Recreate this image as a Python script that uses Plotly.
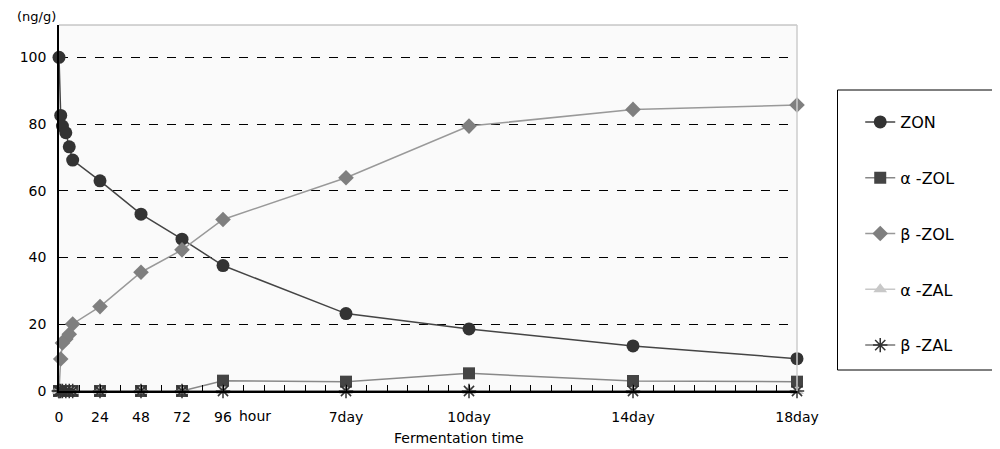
import plotly.graph_objects as go

# ---- data (hours) ----
early_hours = [0, 1, 2, 4, 6, 8]
later_hours = [24, 48, 72, 96, 168, 240, 336, 432]
hours = early_hours + later_hours

zon = [100, 82.6, 79.4, 77.4, 73.2, 69.2, 63.0, 53.0, 45.5, 37.6, 23.2, 18.6, 13.5, 9.7]
a_zol = [0, 0, 0, 0, 0, 0, 0, 0, 0, 3.1, 2.8, 5.3, 3.0, 2.8]
b_zol = [0, 9.6, 14.4, 15.6, 17.0, 20.1, 25.3, 35.6, 42.3, 51.4, 63.9, 79.4, 84.4, 85.7]
a_zal = [0] * 14
b_zal = [0] * 14

label_vals = [0, 24, 48, 72, 96, 168, 240, 336, 432]
label_text = ["0", "24", "48", "72", "96", "7day", "10day", "14day", "18day"]
hour_label_pos = 115
y_ticks = [0, 20, 40, 60, 80, 100]

# all tick positions every 12 h, label only where listed
tick_vals = list(range(0, 433, 12))
tick_text = [label_text[label_vals.index(v)] if v in label_vals else "" for v in tick_vals]

series = [
    ("ZON", zon, "circle", 13, "#333333", "#444444"),
    ("α -ZOL", a_zol, "square", 12, "#444444", "#888888"),
    ("β -ZOL", b_zol, "diamond", 12, "#7f7f7f", "#999999"),
    ("α -ZAL", a_zal, "triangle-up", 12, "#c8c8c8", "#c8c8c8"),
    ("β -ZAL", b_zal, "asterisk-open", 12, "#333333", "#777777"),
]

FONT = "DejaVu Sans, sans-serif"

# page has an 8px body margin; size the figure to fit the window
W, H = 992, 441
OX, OY = 8, 8
PL, PR, PT, PB = 50, 797, 25, 391  # plot area in page pixels


def px(x):
    return (x - PL) / (PR - PL)


def py(y):
    return (PB - y) / (PB - PT)


fig = go.Figure()
for i, (name, vals, sym, size, mcol, lcol) in enumerate(series):
    fig.add_trace(go.Scatter(
        x=hours, y=vals, name=name, mode="lines+markers",
        legendgroup=f"g{i}", cliponaxis=False,
        line=dict(color=lcol, width=1.5),
        marker=dict(symbol=sym, size=size, color=mcol,
                    line=dict(color=mcol, width=1.5 if "asterisk" in sym else 0)),
    ))

# plot borders (top / right light gray)
fig.add_shape(type="line", xref="paper", yref="paper", x0=0, x1=1, y0=1, y1=1,
              line=dict(color="#aaaaaa", width=1))
fig.add_shape(type="line", xref="paper", yref="paper", x0=1, x1=1, y0=0, y1=1,
              line=dict(color="#cccccc", width=1.5))
# legend box
fig.add_shape(type="rect", xref="paper", yref="paper",
              x0=px(838), x1=px(997), y0=py(370), y1=py(90),
              line=dict(color="black", width=1), fillcolor="white", layer="below")

fig.add_annotation(text="(ng/g)", xref="paper", yref="paper",
                   x=px(5), xanchor="left", y=py(17), yanchor="middle", showarrow=False,
                   font=dict(size=13, color="black", family=FONT))
fig.add_annotation(text="hour", xref="x", yref="paper",
                   x=hour_label_pos, y=py(416), yanchor="middle", showarrow=False,
                   font=dict(size=14, color="black", family=FONT))
fig.add_annotation(text="Fermentation time", xref="paper", yref="paper",
                   x=px(455), y=py(438), yanchor="middle", showarrow=False,
                   font=dict(size=14, color="black", family=FONT))

fig.update_layout(
    width=W, height=H,
    margin=dict(l=PL - OX, r=W - (PR - OX), t=PT - OY, b=H - (PB - OY)),
    paper_bgcolor="white", plot_bgcolor="#fafafa",
    font=dict(family=FONT, size=14, color="black"),
    showlegend=True,
    legend=dict(x=px(861), xanchor="left", y=py(105), yanchor="top",
                bgcolor="rgba(0,0,0,0)", borderwidth=0, tracegroupgap=32,
                font=dict(size=16, family=FONT)),
    xaxis=dict(range=[0, 432], tickmode="array", tickvals=tick_vals, ticktext=tick_text,
               ticks="inside", ticklen=6, tickcolor="black", tickwidth=1,
               ticklabelstandoff=12,
               showgrid=False, zeroline=False,
               showline=True, linecolor="black", linewidth=1.5,
               tickfont=dict(size=14)),
    yaxis=dict(range=[0, 109.7], tickvals=y_ticks, ticks="", showgrid=True,
               gridcolor="black", griddash="dash", gridwidth=1,
               zeroline=False, showline=True, linecolor="black", linewidth=1.5,
               ticklabelstandoff=8, tickfont=dict(size=14)),
)

fig.write_html("out.html")
